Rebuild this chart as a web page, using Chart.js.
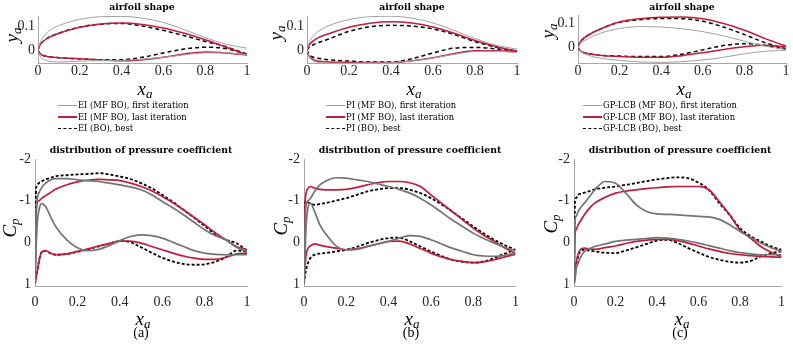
<!DOCTYPE html>
<html>
<head>
<meta charset="utf-8">
<script src="https://cdn.jsdelivr.net/npm/chart.js@4.4.0/dist/chart.umd.min.js"></script>
<style>
  body { margin: 0; background: #fff; width: 793px; height: 344px; position: relative; overflow: hidden; font-family: "DejaVu Serif", serif; color: #000; }
  canvas { position: absolute; }
  .t { position: absolute; white-space: nowrap; transform: translate(-50%, -50%); line-height: 1; }
  .ttl { font-weight: bold; font-size: 9.3px; }
  .math { font-family: "Liberation Serif", serif; font-style: italic; font-size: 19px; }
  .math sub { font-size: 13px; vertical-align: -3px; }
  .rot { transform: translate(-50%, -50%) rotate(-90deg); }
  .cap { font-family: "Liberation Serif", serif; font-size: 14px; }
  .leg { position: absolute; font-size: 8.4px; white-space: nowrap; line-height: 1; }
  .leg i { display: inline-block; width: 19px; vertical-align: middle; margin-right: 1px; }
</style>
</head>
<body>
<canvas id="shapeA" width="262" height="80" style="left:0;top:0"></canvas>
<canvas id="shapeB" width="262" height="80" style="left:265px;top:0"></canvas>
<canvas id="shapeC" width="258" height="80" style="left:535px;top:0"></canvas>
<canvas id="cpA" width="262" height="170" style="left:0;top:145px"></canvas>
<canvas id="cpB" width="262" height="170" style="left:265px;top:145px"></canvas>
<canvas id="cpC" width="258" height="170" style="left:535px;top:145px"></canvas>

<div class="t ttl" style="left:142px;top:7px">airfoil shape</div>
<div class="t ttl" style="left:412px;top:7px">airfoil shape</div>
<div class="t ttl" style="left:682px;top:7px">airfoil shape</div>
<div class="t ttl" style="left:141px;top:150px">distribution of pressure coefficient</div>
<div class="t ttl" style="left:410px;top:150px">distribution of pressure coefficient</div>
<div class="t ttl" style="left:680px;top:150px">distribution of pressure coefficient</div>

<div class="t math" style="left:145px;top:89px">x<sub>a</sub></div>
<div class="t math" style="left:414px;top:89px">x<sub>a</sub></div>
<div class="t math" style="left:684px;top:89px">x<sub>a</sub></div>
<div class="t math" style="left:143px;top:319px">x<sub>a</sub></div>
<div class="t math" style="left:412px;top:319px">x<sub>a</sub></div>
<div class="t math" style="left:682px;top:319px">x<sub>a</sub></div>

<div class="t math rot" style="left:12px;top:35px">y<sub>a</sub></div>
<div class="t math rot" style="left:276px;top:33px">y<sub>a</sub></div>
<div class="t math rot" style="left:548px;top:31px">y<sub>a</sub></div>
<div class="t math rot" style="left:10px;top:228px">C<sub>p</sub></div>
<div class="t math rot" style="left:281px;top:226px">C<sub>p</sub></div>
<div class="t math rot" style="left:551px;top:224px">C<sub>p</sub></div>

<div class="t cap" style="left:141px;top:333px">(a)</div>
<div class="t cap" style="left:411px;top:333px">(b)</div>
<div class="t cap" style="left:680px;top:333px">(c)</div>

<div id="legends"></div>

<script>
// x stations of the airfoil outlines
const AX = [0, 0.01, 0.03, 0.05, 0.1, 0.2, 0.3, 0.4, 0.5, 0.6, 0.7, 0.8, 0.9, 1];
// x stations of the Cp curves
const CX = [0, 0.005, 0.01, 0.02, 0.03, 0.05, 0.075, 0.1, 0.15, 0.2, 0.25, 0.3, 0.35, 0.4, 0.45, 0.5, 0.55, 0.6, 0.65, 0.7, 0.75, 0.8, 0.85, 0.9, 0.95, 1];

const X_TICKS = [0, 0.2, 0.4, 0.6, 0.8, 1];
const SHAPE_TICKS = [0, 0.1];
const CP_TICKS = [-2, -1, 0, 1];

const LEGEND_A = ['EI (MF BO), first iteration', 'EI (MF BO), last iteration', 'EI (BO), best'];
const LEGEND_B = ['PI (MF BO), first iteration', 'PI (MF BO), last iteration', 'PI (BO), best'];
const LEGEND_C = ['GP-LCB (MF BO), first iteration', 'GP-LCB (MF BO), last iteration', 'GP-LCB (BO), best'];

// (a) EI  - airfoil shape
const eiFirstUp = [0, 0.03, 0.06, 0.078, 0.102, 0.128, 0.139, 0.140, 0.133, 0.115, 0.085, 0.052, 0.024, 0.008];
const eiFirstLo = [0, -0.025, -0.04, -0.046, -0.05, -0.046, -0.044, -0.043, -0.038, -0.03, -0.02, -0.012, -0.012, -0.02];
const eiLastUp = [0, 0.022, 0.04, 0.052, 0.07, 0.095, 0.109, 0.113, 0.107, 0.092, 0.07, 0.043, 0.012, -0.02];
const eiLastLo = [0, -0.015, -0.024, -0.028, -0.032, -0.036, -0.041, -0.045, -0.04, -0.03, -0.016, -0.008, -0.012, -0.021];
const eiBestUp = [0, 0.022, 0.04, 0.052, 0.07, 0.096, 0.108, 0.111, 0.1, 0.082, 0.06, 0.036, 0.014, -0.018];
const eiBestLo = [0, -0.015, -0.024, -0.028, -0.032, -0.037, -0.04, -0.04, -0.03, -0.012, 0.004, 0.012, 0.006, -0.018];

// (b) PI - airfoil shape
const piFirstUp = [0, 0.03, 0.058, 0.075, 0.1, 0.127, 0.139, 0.141, 0.133, 0.113, 0.082, 0.048, 0.02, 0.004];
const piFirstLo = [0, -0.028, -0.045, -0.052, -0.056, -0.055, -0.054, -0.053, -0.045, -0.033, -0.018, -0.006, -0.005, -0.01];
const piLastUp = [0, 0.02, 0.038, 0.05, 0.067, 0.095, 0.112, 0.118, 0.113, 0.096, 0.07, 0.04, 0.015, -0.005];
const piLastLo = [0, -0.025, -0.04, -0.046, -0.05, -0.051, -0.052, -0.052, -0.045, -0.032, -0.015, -0.003, -0.003, -0.008];
const piBestUp = [0, 0.012, 0.022, 0.03, 0.045, 0.078, 0.097, 0.103, 0.1, 0.088, 0.065, 0.035, 0.012, -0.004];
const piBestLo = [0, -0.018, -0.03, -0.034, -0.04, -0.046, -0.05, -0.05, -0.036, -0.012, 0.008, 0.011, 0.005, -0.006];

// (c) GP-LCB - airfoil shape
const lcbFirstUp = [0, 0.012, 0.025, 0.035, 0.055, 0.077, 0.085, 0.083, 0.076, 0.064, 0.046, 0.024, 0.003, -0.01];
const lcbFirstLo = [0, -0.015, -0.028, -0.035, -0.045, -0.056, -0.062, -0.064, -0.061, -0.054, -0.043, -0.028, -0.018, -0.013];
const lcbLastUp = [0, 0.02, 0.038, 0.05, 0.072, 0.104, 0.118, 0.124, 0.125, 0.118, 0.098, 0.07, 0.035, 0.004];
const lcbLastLo = [0, -0.015, -0.024, -0.028, -0.034, -0.04, -0.043, -0.043, -0.036, -0.024, -0.01, 0.001, 0.007, 0];
const lcbBestUp = [0, 0.02, 0.038, 0.05, 0.072, 0.103, 0.114, 0.119, 0.118, 0.107, 0.083, 0.052, 0.018, -0.008];
const lcbBestLo = [0, -0.015, -0.024, -0.028, -0.034, -0.038, -0.04, -0.04, -0.03, -0.012, 0.006, 0.014, 0.006, -0.01];

// (a) EI - Cp
const eiCpFirstUp = [1, -0.5, -1.0, -1.2, -1.3, -1.42, -1.5, -1.53, -1.53, -1.5, -1.48, -1.46, -1.42, -1.38, -1.33, -1.26, -1.14, -0.98, -0.83, -0.66, -0.48, -0.3, -0.16, -0.06, 0.12, 0.22];
const eiCpFirstLo = [1, 0.2, -0.4, -0.8, -0.93, -0.86, -0.6, -0.36, -0.06, 0.13, 0.2, 0.17, 0.08, -0.04, -0.14, -0.18, -0.16, -0.1, 0.0, 0.1, 0.2, 0.26, 0.29, 0.3, 0.3, 0.3];
const eiCpLastUp = [1, -0.7, -0.95, -1.0, -1.05, -1.12, -1.2, -1.28, -1.38, -1.45, -1.49, -1.51, -1.5, -1.48, -1.42, -1.34, -1.24, -1.1, -0.95, -0.78, -0.6, -0.42, -0.23, -0.06, 0.1, 0.18];
const eiCpLastLo = [1, 0.85, 0.72, 0.42, 0.25, 0.2, 0.27, 0.3, 0.28, 0.22, 0.16, 0.09, 0.03, -0.03, -0.03, 0.02, 0.1, 0.18, 0.26, 0.33, 0.38, 0.41, 0.41, 0.36, 0.28, 0.26];
const eiCpBestUp = [1, -1.26, -1.38, -1.43, -1.46, -1.51, -1.55, -1.59, -1.61, -1.63, -1.64, -1.66, -1.63, -1.58, -1.52, -1.42, -1.3, -1.14, -0.97, -0.78, -0.59, -0.39, -0.2, -0.06, 0.02, 0.2];
const eiCpBestLo = [1, 0.85, 0.72, 0.42, 0.25, 0.2, 0.27, 0.3, 0.28, 0.23, 0.17, 0.1, 0.03, -0.03, 0.0, 0.12, 0.25, 0.37, 0.46, 0.52, 0.54, 0.53, 0.47, 0.36, 0.2, 0.22];

// (b) PI - Cp
const piCpFirstUp = [1, -0.4, -0.9, -1.0, -1.05, -1.22, -1.38, -1.46, -1.55, -1.54, -1.5, -1.46, -1.4, -1.34, -1.27, -1.18, -1.06, -0.9, -0.72, -0.54, -0.38, -0.22, -0.09, 0.02, 0.12, 0.2];
const piCpFirstLo = [1, 0.3, -0.4, -0.85, -0.94, -0.74, -0.42, -0.22, 0.08, 0.18, 0.17, 0.1, 0.04, -0.02, -0.1, -0.16, -0.14, -0.06, 0.04, 0.14, 0.22, 0.3, 0.33, 0.34, 0.31, 0.26];
const piCpLastUp = [1, -0.86, -1.18, -1.3, -1.34, -1.3, -1.27, -1.26, -1.26, -1.27, -1.32, -1.38, -1.43, -1.46, -1.46, -1.43, -1.34, -1.14, -0.94, -0.74, -0.54, -0.34, -0.17, -0.02, 0.14, 0.26];
const piCpLastLo = [1, 0.58, 0.3, 0.14, 0.09, 0.04, 0.07, 0.1, 0.14, 0.18, 0.16, 0.1, 0.04, -0.02, -0.03, 0.04, 0.15, 0.26, 0.35, 0.42, 0.46, 0.49, 0.47, 0.42, 0.35, 0.29];
const piCpBestUp = [1, -0.98, -0.97, -0.95, -0.94, -0.9, -0.92, -0.94, -1.0, -1.06, -1.14, -1.22, -1.27, -1.3, -1.3, -1.26, -1.18, -1.06, -0.91, -0.74, -0.56, -0.38, -0.21, -0.06, 0.07, 0.18];
const piCpBestLo = [1, 0.8, 0.66, 0.48, 0.38, 0.3, 0.27, 0.26, 0.22, 0.18, 0.11, 0.02, -0.05, -0.1, -0.11, -0.02, 0.1, 0.22, 0.33, 0.42, 0.47, 0.49, 0.46, 0.38, 0.27, 0.18];

// (c) GP-LCB - Cp
const lcbCpFirstUp = [1, -0.54, -0.62, -0.74, -0.82, -0.94, -1.1, -1.26, -1.46, -1.42, -1.18, -0.9, -0.74, -0.68, -0.67, -0.66, -0.64, -0.62, -0.61, -0.55, -0.42, -0.26, -0.12, 0.02, 0.13, 0.22];
const lcbCpFirstLo = [1, 0.9, 0.66, 0.5, 0.38, 0.22, 0.15, 0.1, 0.04, -0.02, -0.05, -0.07, -0.09, -0.11, -0.1, -0.07, -0.03, 0.02, 0.08, 0.14, 0.2, 0.25, 0.28, 0.3, 0.3, 0.3];
const lcbCpLastUp = [1, -0.22, -0.3, -0.42, -0.5, -0.66, -0.82, -0.94, -1.08, -1.18, -1.23, -1.26, -1.29, -1.31, -1.33, -1.34, -1.34, -1.34, -1.26, -0.98, -0.66, -0.3, -0.1, 0.1, 0.24, 0.34];
const lcbCpLastLo = [1, 0.75, 0.5, 0.28, 0.18, 0.14, 0.16, 0.17, 0.13, 0.09, 0.03, -0.02, -0.05, -0.07, -0.07, -0.04, 0.02, 0.09, 0.16, 0.22, 0.27, 0.3, 0.32, 0.34, 0.35, 0.36];
const lcbCpBestUp = [1, -0.98, -1.06, -1.14, -1.16, -1.19, -1.23, -1.27, -1.31, -1.34, -1.38, -1.42, -1.47, -1.51, -1.54, -1.56, -1.54, -1.43, -1.26, -0.94, -0.66, -0.34, -0.15, -0.02, 0.1, 0.18];
const lcbCpBestLo = [1, 0.8, 0.58, 0.34, 0.22, 0.18, 0.2, 0.22, 0.25, 0.26, 0.2, 0.12, 0.04, -0.04, -0.06, 0.02, 0.14, 0.25, 0.35, 0.42, 0.47, 0.49, 0.45, 0.34, 0.26, 0.22];

const RED = '#be1e3c';
const TICK_FONT = { family: '"Liberation Serif", serif', size: 14 };
const TICK_COLOR = '#262626';

const pts = (xs, ys) => xs.map((x, i) => ({ x: x, y: ys[i] }));

// style of each of the three curves: first iteration, last iteration, best BO
const shapeStyle = [
    { borderColor: '#a0a0a0', borderWidth: 1 },
    { borderColor: RED, borderWidth: 1.5 },
    { borderColor: '#000', borderWidth: 1.5, borderDash: [4, 3] }
];
const cpStyle = [
    { borderColor: '#747474', borderWidth: 1.7 },
    { borderColor: RED, borderWidth: 1.7 },
    { borderColor: '#000', borderWidth: 1.8, borderDash: [3, 2] }
];

function sets(xs, curves, styles) {
    // curves: [[up, lo], [up, lo], [up, lo]]
    const out = [];
    curves.forEach((pair, k) => {
        pair.forEach(ys => out.push(Object.assign({ data: pts(xs, ys), fill: false }, styles[k])));
    });
    return out;
}

function makeChart(id, box, yMin, yMax, yTicks, reverse, datasets) {
    const ctx = document.getElementById(id).getContext('2d');
    return new Chart(ctx, {
        type: 'line',
        data: { datasets: datasets },
        options: {
            responsive: false,
            animation: false,
            devicePixelRatio: 1,
            layout: { padding: { top: box.top, right: box.right, left: 0, bottom: 0 } },
            plugins: { legend: { display: false }, tooltip: { enabled: false }, title: { display: false } },
            elements: { point: { radius: 0 }, line: { cubicInterpolationMode: 'monotone' } },
            scales: {
                x: {
                    type: 'linear', min: 0, max: 1,
                    afterFit: s => { s.height = box.xh; },
                    afterBuildTicks: s => { s.ticks = X_TICKS.map(v => ({ value: v })); },
                    grid: { display: false, drawTicks: false },
                    border: { color: '#a8a8a8', width: 1 },
                    ticks: { padding: box.xpad, font: TICK_FONT, color: TICK_COLOR, maxRotation: 0, callback: v => String(v) }
                },
                y: {
                    type: 'linear', min: yMin, max: yMax, reverse: reverse,
                    afterFit: s => { s.width = box.yw; },
                    afterBuildTicks: s => { s.ticks = yTicks.map(v => ({ value: v })); },
                    grid: { display: false, drawTicks: false },
                    border: { color: '#a8a8a8', width: 1 },
                    ticks: { padding: box.ypad, font: TICK_FONT, color: TICK_COLOR, callback: v => String(v) }
                }
            }
        }
    });
}

makeChart('shapeA', { top: 16, right: 15, xh: 17, yw: 38, xpad: 0, ypad: 3 }, -0.054, 0.142, SHAPE_TICKS, false,
    sets(AX, [[eiFirstUp, eiFirstLo], [eiLastUp, eiLastLo], [eiBestUp, eiBestLo]], shapeStyle));
makeChart('shapeB', { top: 16, right: 10, xh: 17, yw: 42, xpad: 0, ypad: 3 }, -0.054, 0.142, SHAPE_TICKS, false,
    sets(AX, [[piFirstUp, piFirstLo], [piLastUp, piLastLo], [piBestUp, piBestLo]], shapeStyle));
makeChart('shapeC', { top: 15, right: 7, xh: 17, yw: 43, xpad: 0, ypad: 3 }, -0.0667, 0.1333, SHAPE_TICKS, false,
    sets(AX, [[lcbFirstUp, lcbFirstLo], [lcbLastUp, lcbLastLo], [lcbBestUp, lcbBestLo]], shapeStyle));

makeChart('cpA', { top: 14, right: 15, xh: 29, yw: 35, xpad: 8, ypad: 4 }, -2, 1.05, CP_TICKS, true,
    sets(CX, [[eiCpFirstUp, eiCpFirstLo], [eiCpLastUp, eiCpLastLo], [eiCpBestUp, eiCpBestLo]], cpStyle));
makeChart('cpB', { top: 14, right: 10, xh: 29, yw: 39, xpad: 8, ypad: 4 }, -2, 1.05, CP_TICKS, true,
    sets(CX, [[piCpFirstUp, piCpFirstLo], [piCpLastUp, piCpLastLo], [piCpBestUp, piCpBestLo]], cpStyle));
makeChart('cpC', { top: 14, right: 7, xh: 29, yw: 39, xpad: 8, ypad: 4 }, -2, 1.05, CP_TICKS, true,
    sets(CX, [[lcbCpFirstUp, lcbCpFirstLo], [lcbCpLastUp, lcbCpLastLo], [lcbCpBestUp, lcbCpBestLo]], cpStyle));

// legends between the rows
const sampleCss = [
    'border-top:1px solid #a0a0a0',
    'border-top:2px solid ' + RED,
    'border-top:1.5px dashed #000'
];
function legend(labels, left) {
    const rowsY = [106, 117.5, 129];
    labels.forEach((txt, k) => {
        const d = document.createElement('div');
        d.className = 'leg';
        d.style.left = left + 'px';
        d.style.top = (rowsY[k] - 5) + 'px';
        d.innerHTML = '<i style="' + sampleCss[k] + '"></i>' + txt;
        document.getElementById('legends').appendChild(d);
    });
}
legend(LEGEND_A, 58);
legend(LEGEND_B, 326);
legend(LEGEND_C, 583);
</script>
</body>
</html>
